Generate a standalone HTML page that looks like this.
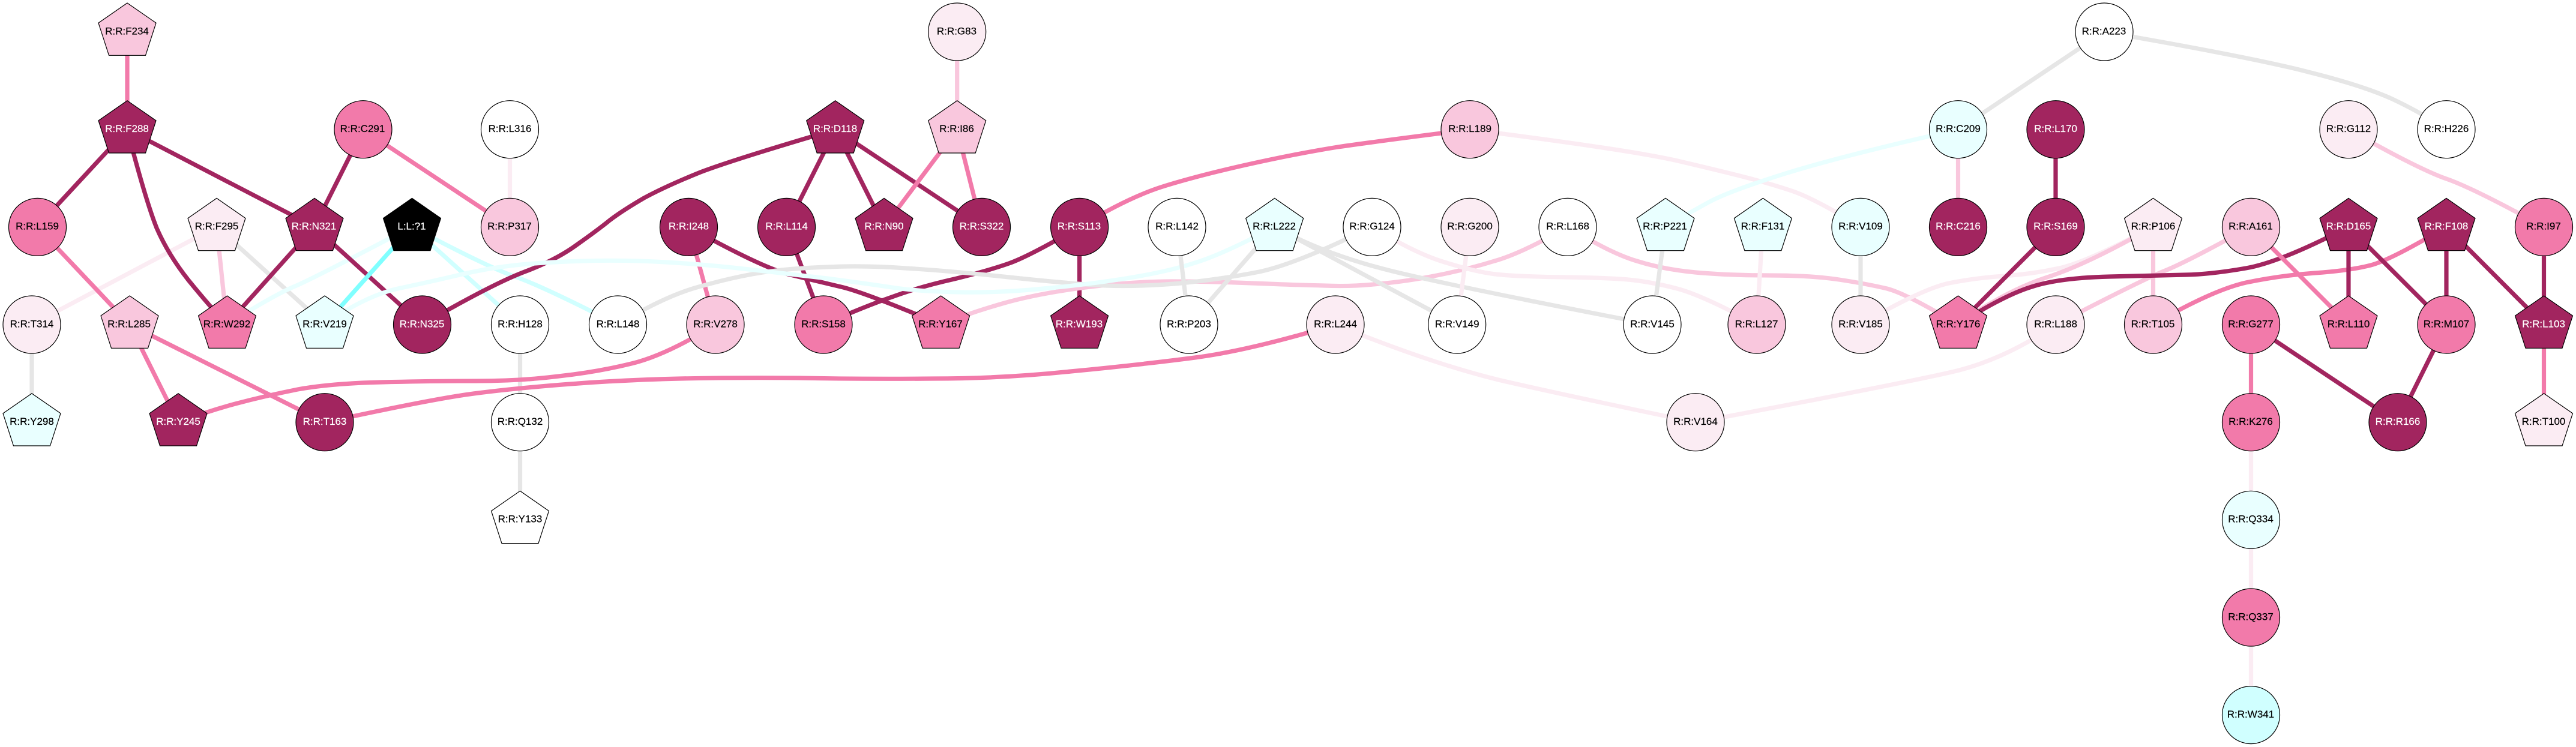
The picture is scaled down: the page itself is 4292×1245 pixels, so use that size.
<!DOCTYPE html>
<html>
<head>
<meta charset="utf-8">
<title>Residue network</title>
<style>
html,body{margin:0;padding:0;background:#fff;width:4292px;height:1245px;overflow:hidden}
svg{display:block}
.e path,.e line{fill:none;stroke-width:7.2}
.ed{stroke:#a2255f}.ep{stroke:#f27aaa}.eq{stroke:#f9c7dd}.el{stroke:#fbecf3}.eg{stroke:#e6e6e6}.ec{stroke:#e9ffff}.ee{stroke:#d0ffff}.eb{stroke:#80ffff}
.n circle,.n use{stroke:#000;stroke-width:1.2}
.d{fill:#a2255f}.p{fill:#f27aaa}.q{fill:#f9c7dd}.l{fill:#fbecf3}.w{fill:#fff}.c{fill:#e9ffff}.k{fill:#000}.x{fill:#d0ffff}
text{font-family:"Liberation Sans",Arial,sans-serif;font-size:17px;text-anchor:middle;fill:#000;stroke:#000;stroke-width:.2}
text.t{fill:#fff;stroke:#fff}
</style>
</head>
<body>
<svg width="4292" height="1245" viewBox="0 0 4292 1245" xmlns="http://www.w3.org/2000/svg">
<defs><polygon id="g" points="0,-48 48,-14.7 30.5,39.3 -30.5,39.3 -48,-14.7"/></defs>
<rect width="4292" height="1245" fill="#fff"/>
<g class="e">
<line class="eg" x1="53" y1="541" x2="53" y2="704"/>
<line class="eg" x1="866.5" y1="541" x2="866.5" y2="704"/>
<line class="eg" x1="866.5" y1="704" x2="866.5" y2="866"/>
<line class="el" x1="361" y1="378" x2="53" y2="541"/>
<line class="eg" x1="361" y1="378" x2="541" y2="541"/>
<line class="eq" x1="361" y1="378" x2="378" y2="541"/>
<line class="el" x1="849.5" y1="216" x2="849.5" y2="378"/>
<line class="ee" x1="686" y1="378" x2="866.5" y2="541"/>
<path class="ee" d="M686 378 Q812 445 858 461 Q904 477 1029 541"/>
<path class="ec" d="M686 378 Q528 461 494 476 Q459 490 378 541"/>
<line class="ep" x1="212" y1="53" x2="212" y2="216"/>
<line class="ed" x1="212" y1="216" x2="62" y2="378"/>
<line class="ed" x1="212" y1="216" x2="524" y2="378"/>
<path class="ed" d="M212 216 Q243 335 261 380 Q280 424 314 467 Q349 510 378 541"/>
<line class="ed" x1="605" y1="216" x2="524" y2="378"/>
<line class="ep" x1="605" y1="216" x2="849.5" y2="378"/>
<line class="ep" x1="62" y1="378" x2="216" y2="541"/>
<line class="ed" x1="524" y1="378" x2="378" y2="541"/>
<line class="ed" x1="524" y1="378" x2="703" y2="541"/>
<line class="eb" x1="686" y1="378" x2="541" y2="541"/>
<line class="ep" x1="216" y1="541" x2="297" y2="704"/>
<line class="ep" x1="216" y1="541" x2="541" y2="704"/>
<path class="ed" d="M1392 216 Q1225 265 1167 287 Q1110 310 1073 330 Q1037 351 1016 367 Q995 384 961 408 Q927 433 874 453 Q821 473 703 541"/>
<line class="ep" x1="1147.5" y1="378" x2="1192" y2="541"/>
<path class="ed" d="M1147 378 Q1271 447 1317 458 Q1363 469 1401 478 Q1440 487 1568 541"/>
<line class="ed" x1="1310.5" y1="378" x2="1372" y2="541"/>
<path class="ep" d="M1192 541 Q1110 592 1052 606 Q995 620 931 627 Q867 635 793 635 Q720 635 635 637 Q551 639 496 649 Q441 660 392 673 Q344 686 297 704"/>
<path class="ep" d="M541 704 Q720 665 789 656 Q858 647 950 640 Q1041 633 1133 631 Q1225 629 1332 630 Q1440 632 1555 631 Q1670 631 1784 619 Q1899 608 1991 596 Q2083 584 2225 541"/>
<line class="ed" x1="1392" y1="216" x2="1310.5" y2="378"/>
<line class="ed" x1="1392" y1="216" x2="1473" y2="378"/>
<line class="ed" x1="1392" y1="216" x2="1635.5" y2="378"/>
<line class="eq" x1="1594.7" y1="53" x2="1594.7" y2="216"/>
<line class="ep" x1="1594.7" y1="216" x2="1473" y2="378"/>
<line class="ep" x1="1594.7" y1="216" x2="1635.5" y2="378"/>
<path class="ed" d="M1799 378 Q1715 427 1681 439 Q1647 451 1590 465 Q1532 478 1486 495 Q1440 511 1372 541"/>
<line class="ed" x1="1798.6" y1="378" x2="1798.6" y2="541"/>
<path class="ep" d="M1799 378 Q1876 331 1934 312 Q1991 294 2075 275 Q2160 256 2229 245 Q2298 235 2449 216"/>
<path class="el" d="M2449 216 Q2711 249 2795 268 Q2880 288 2914 297 Q2949 306 2988 319 Q3027 333 3100 378"/>
<path class="eq" d="M2612 378 Q2536 422 2490 435 Q2445 449 2394 459 Q2344 469 2298 473 Q2252 478 2206 476 Q2160 475 2087 472 Q2014 469 1952 469 Q1890 469 1808 479 Q1725 490 1670 506 Q1614 522 1568 541"/>
<path class="eg" d="M1029 541 Q1110 492 1168 477 Q1225 461 1271 454 Q1317 447 1378 445 Q1440 442 1509 447 Q1578 451 1681 462 Q1784 473 1842 476 Q1899 478 1968 472 Q2037 465 2098 453 Q2160 440 2286 378"/>
<path class="ec" d="M541 541 Q606 494 663 481 Q720 469 766 458 Q812 447 858 442 Q904 437 972 435 Q1041 433 1110 437 Q1179 441 1248 449 Q1317 457 1378 464 Q1440 472 1486 479 Q1532 486 1601 487 Q1670 488 1738 481 Q1807 475 1876 464 Q1945 453 1991 438 Q2037 424 2124 378"/>
<line class="eg" x1="1961" y1="378" x2="1981" y2="541"/>
<line class="eg" x1="2124" y1="378" x2="1981" y2="541"/>
<line class="eg" x1="2124" y1="378" x2="2428" y2="541"/>
<path class="eg" d="M2124 378 Q2206 424 2320 452 Q2435 480 2753 541"/>
<line class="el" x1="2449" y1="378" x2="2428" y2="541"/>
<path class="el" d="M2286 378 Q2357 422 2407 437 Q2458 453 2492 457 Q2527 461 2607 462 Q2688 463 2722 467 Q2757 471 2798 482 Q2840 494 2927 541"/>
<path class="eq" d="M2612 378 Q2683 422 2727 435 Q2771 449 2825 454 Q2880 459 2949 459 Q3018 459 3064 466 Q3110 473 3144 481 Q3178 490 3262 541"/>
<line class="eg" x1="2775" y1="378" x2="2753" y2="541"/>
<path class="ec" d="M3262 216 Q3064 261 2972 290 Q2880 319 2847 337 Q2814 355 2775 378"/>
<path class="el" d="M2225 541 Q2390 608 2505 635 Q2619 661 2825 704"/>
<path class="el" d="M2825 704 Q3165 640 3252 620 Q3339 600 3425 541"/>
<line class="el" x1="2937" y1="378" x2="2927" y2="541"/>
<line class="eg" x1="3100" y1="378" x2="3100" y2="541"/>
<path class="el" d="M3100 541 Q3201 482 3247 472 Q3293 463 3339 460 Q3385 457 3431 447 Q3477 437 3587 378"/>
<path class="eq" d="M3262 541 Q3339 486 3408 463 Q3477 441 3587 378"/>
<line class="eg" x1="3506" y1="53" x2="3262.5" y2="216"/>
<path class="eg" d="M3506 53 Q3754 96 3846 120 Q3938 143 3986 165 Q4035 188 4076 216"/>
<line class="eq" x1="3262.5" y1="216" x2="3262.5" y2="378"/>
<line class="ed" x1="3425" y1="216" x2="3425" y2="378"/>
<line class="ed" x1="3425" y1="378" x2="3262.5" y2="541"/>
<line class="eq" x1="3587.5" y1="378" x2="3587.5" y2="541"/>
<path class="eq" d="M3750 378 Q3639 439 3605 452 Q3570 466 3425 541"/>
<path class="ed" d="M3262 541 Q3339 492 3385 478 Q3431 463 3515 461 Q3600 459 3642 458 Q3685 457 3742 447 Q3800 437 3913 378"/>
<path class="ep" d="M3587 541 Q3685 484 3742 471 Q3800 459 3857 455 Q3915 451 3950 442 Q3984 433 4076 378"/>
<line class="ep" x1="3750.5" y1="378" x2="3913" y2="541"/>
<line class="ed" x1="3913" y1="378" x2="3913" y2="541"/>
<line class="ed" x1="3913" y1="378" x2="4076" y2="541"/>
<line class="ed" x1="4076" y1="378" x2="4076" y2="541"/>
<line class="ed" x1="4076" y1="378" x2="4238.5" y2="541"/>
<line class="ed" x1="4238.5" y1="378" x2="4238.5" y2="541"/>
<path class="eq" d="M3913 216 Q4030 282 4076 298 Q4122 314 4238 378"/>
<line class="ep" x1="4238.5" y1="541" x2="4238.5" y2="704"/>
<line class="ep" x1="3750.5" y1="541" x2="3750.5" y2="704"/>
<line class="ed" x1="3750.5" y1="541" x2="3995" y2="704"/>
<line class="ed" x1="4076" y1="541" x2="3995" y2="704"/>
<line class="el" x1="3750.5" y1="704" x2="3750.5" y2="866"/>
<line class="el" x1="3750.5" y1="866" x2="3750.5" y2="1029"/>
<line class="el" x1="3750.5" y1="1029" x2="3750.5" y2="1192"/>
</g>
<g class="n">
<use href="#g" class="q" x="212" y="53"/><text x="211.5" y="57.3">R:R:F234</text>
<use href="#g" class="d" x="212" y="215.7"/><text class="t" x="211.5" y="220">R:R:F288</text>
<circle class="p" cx="605" cy="215.7" r="48"/><text x="604" y="220">R:R:C291</text>
<circle class="p" cx="62.5" cy="378.4" r="48"/><text x="62" y="382.7">R:R:L159</text>
<use href="#g" class="l" x="361" y="378.4"/><text x="361" y="382.7">R:R:F295</text>
<use href="#g" class="d" x="524" y="378.4"/><text class="t" x="523" y="382.7">R:R:N321</text>
<use href="#g" class="k" x="686.5" y="378.4"/><text class="t" x="686" y="382.7">L:L:?1</text>
<circle class="l" cx="53" cy="541" r="48"/><text x="53" y="545.3">R:R:T314</text>
<use href="#g" class="q" x="216" y="541"/><text x="215" y="545.3">R:R:L285</text>
<use href="#g" class="p" x="378.5" y="541"/><text x="378" y="545.3">R:R:W292</text>
<use href="#g" class="c" x="541" y="541"/><text x="541" y="545.3">R:R:V219</text>
<circle class="d" cx="703.5" cy="541" r="48"/><text class="t" x="703" y="545.3">R:R:N325</text>
<use href="#g" class="c" x="53" y="703.7"/><text x="53" y="708">R:R:Y298</text>
<use href="#g" class="d" x="297" y="703.7"/><text class="t" x="297" y="708">R:R:Y245</text>
<circle class="d" cx="541" cy="703.7" r="48"/><text class="t" x="541" y="708">R:R:T163</text>
<circle class="w" cx="849.5" cy="215.7" r="48"/><text x="849.5" y="220">R:R:L316</text>
<circle class="q" cx="849.5" cy="378.4" r="48"/><text x="849" y="382.7">R:R:P317</text>
<circle class="w" cx="866.5" cy="541" r="48"/><text x="866.5" y="545.3">R:R:H128</text>
<circle class="w" cx="866.5" cy="703.7" r="48"/><text x="866.5" y="708">R:R:Q132</text>
<use href="#g" class="w" x="866.5" y="866.3"/><text x="866.5" y="870.6">R:R:Y133</text>
<circle class="w" cx="1029.5" cy="541" r="48"/><text x="1029.5" y="545.3">R:R:L148</text>
<circle class="d" cx="1147.5" cy="378.4" r="48"/><text class="t" x="1147.5" y="382.7">R:R:I248</text>
<circle class="q" cx="1192" cy="541" r="48"/><text x="1192" y="545.3">R:R:V278</text>
<circle class="d" cx="1310.5" cy="378.4" r="48"/><text class="t" x="1310.5" y="382.7">R:R:L114</text>
<circle class="p" cx="1372" cy="541" r="48"/><text x="1372" y="545.3">R:R:S158</text>
<use href="#g" class="d" x="1391.7" y="215.7"/><text class="t" x="1391.5" y="220">R:R:D118</text>
<use href="#g" class="d" x="1473" y="378.4"/><text class="t" x="1473" y="382.7">R:R:N90</text>
<circle class="l" cx="1594.7" cy="53" r="48"/><text x="1594" y="57.3">R:R:G83</text>
<use href="#g" class="q" x="1594.7" y="215.7"/><text x="1594" y="220">R:R:I86</text>
<circle class="d" cx="1635.5" cy="378.4" r="48"/><text class="t" x="1635.5" y="382.7">R:R:S322</text>
<use href="#g" class="p" x="1567.6" y="541"/><text x="1567" y="545.3">R:R:Y167</text>
<circle class="d" cx="1798.6" cy="378.4" r="48"/><text class="t" x="1798" y="382.7">R:R:S113</text>
<use href="#g" class="d" x="1798.6" y="541"/><text class="t" x="1798" y="545.3">R:R:W193</text>
<circle class="w" cx="1961" cy="378.4" r="48"/><text x="1961" y="382.7">R:R:L142</text>
<circle class="w" cx="1981" cy="541" r="48"/><text x="1981" y="545.3">R:R:P203</text>
<use href="#g" class="c" x="2123.7" y="378.4"/><text x="2123" y="382.7">R:R:L222</text>
<circle class="l" cx="2225" cy="541" r="48"/><text x="2225" y="545.3">R:R:L244</text>
<circle class="w" cx="2286" cy="378.4" r="48"/><text x="2286" y="382.7">R:R:G124</text>
<circle class="q" cx="2449" cy="215.7" r="48"/><text x="2449" y="220">R:R:L189</text>
<circle class="l" cx="2449" cy="378.4" r="48"/><text x="2449" y="382.7">R:R:G200</text>
<circle class="w" cx="2427.7" cy="541" r="48"/><text x="2427.7" y="545.3">R:R:V149</text>
<circle class="w" cx="2612" cy="378.4" r="48"/><text x="2612" y="382.7">R:R:L168</text>
<use href="#g" class="c" x="2775" y="378.4"/><text x="2774" y="382.7">R:R:P221</text>
<circle class="w" cx="2753" cy="541" r="48"/><text x="2753" y="545.3">R:R:V145</text>
<circle class="l" cx="2825" cy="703.7" r="48"/><text x="2825" y="708">R:R:V164</text>
<use href="#g" class="c" x="2937.4" y="378.4"/><text x="2937" y="382.7">R:R:F131</text>
<circle class="q" cx="2927" cy="541" r="48"/><text x="2926.5" y="545.3">R:R:L127</text>
<circle class="c" cx="3100" cy="378.4" r="48"/><text x="3100" y="382.7">R:R:V109</text>
<circle class="l" cx="3100" cy="541" r="48"/><text x="3100" y="545.3">R:R:V185</text>
<circle class="c" cx="3262.5" cy="215.7" r="48"/><text x="3262.5" y="220">R:R:C209</text>
<circle class="d" cx="3262.5" cy="378.4" r="48"/><text class="t" x="3262.5" y="382.7">R:R:C216</text>
<use href="#g" class="p" x="3262.5" y="541"/><text x="3262.5" y="545.3">R:R:Y176</text>
<circle class="d" cx="3425" cy="215.7" r="48"/><text class="t" x="3425" y="220">R:R:L170</text>
<circle class="d" cx="3425" cy="378.4" r="48"/><text class="t" x="3425" y="382.7">R:R:S169</text>
<circle class="l" cx="3425" cy="541" r="48"/><text x="3425" y="545.3">R:R:L188</text>
<circle class="w" cx="3506" cy="53" r="48"/><text x="3505.5" y="57.3">R:R:A223</text>
<use href="#g" class="l" x="3587.5" y="378.4"/><text x="3587.5" y="382.7">R:R:P106</text>
<circle class="q" cx="3587.5" cy="541" r="48"/><text x="3587" y="545.3">R:R:T105</text>
<circle class="q" cx="3750.5" cy="378.4" r="48"/><text x="3750" y="382.7">R:R:A161</text>
<circle class="p" cx="3750.5" cy="541" r="48"/><text x="3750" y="545.3">R:R:G277</text>
<circle class="p" cx="3750.5" cy="703.7" r="48"/><text x="3750" y="708">R:R:K276</text>
<circle class="c" cx="3750.5" cy="866.3" r="48"/><text x="3750" y="870.6">R:R:Q334</text>
<circle class="p" cx="3750.5" cy="1029" r="48"/><text x="3750" y="1033.3">R:R:Q337</text>
<circle class="x" cx="3750.5" cy="1191.6" r="48"/><text x="3750" y="1195.9">R:R:W341</text>
<circle class="l" cx="3913" cy="215.7" r="48"/><text x="3913" y="220">R:R:G112</text>
<use href="#g" class="d" x="3913" y="378.4"/><text class="t" x="3913" y="382.7">R:R:D165</text>
<use href="#g" class="p" x="3913" y="541"/><text x="3913" y="545.3">R:R:L110</text>
<circle class="d" cx="3995" cy="703.7" r="48"/><text class="t" x="3995" y="708">R:R:R166</text>
<circle class="w" cx="4076" cy="215.7" r="48"/><text x="4076" y="220">R:R:H226</text>
<use href="#g" class="d" x="4076" y="378.4"/><text class="t" x="4076" y="382.7">R:R:F108</text>
<circle class="p" cx="4076" cy="541" r="48"/><text x="4076" y="545.3">R:R:M107</text>
<circle class="p" cx="4238.5" cy="378.4" r="48"/><text x="4238" y="382.7">R:R:I97</text>
<use href="#g" class="d" x="4238.5" y="541"/><text class="t" x="4238" y="545.3">R:R:L103</text>
<use href="#g" class="l" x="4238.5" y="703.7"/><text x="4238" y="708">R:R:T100</text>
</g>
</svg>
</body>
</html>
